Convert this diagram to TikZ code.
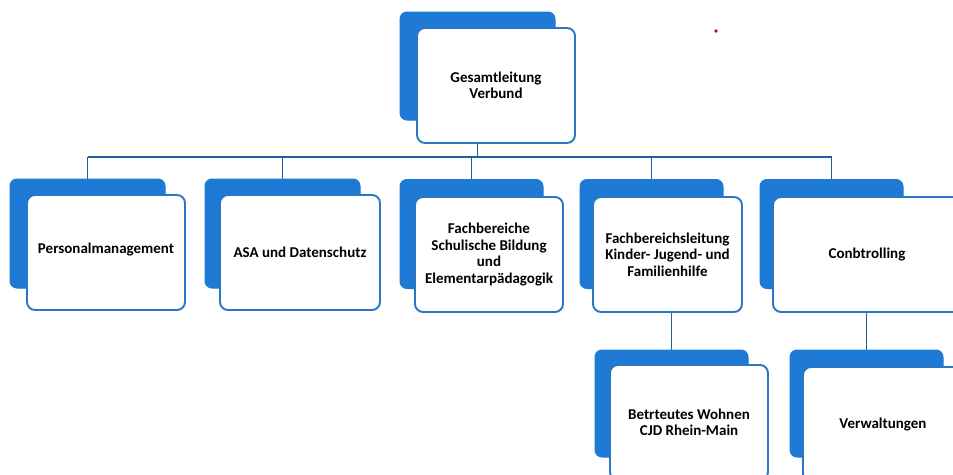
\documentclass[tikz,border=0pt]{standalone}
\usepackage{fontspec}
\setmainfont{Carlito}
\definecolor{backblue}{HTML}{1F7AD6}
\definecolor{lineblue}{HTML}{2A76C6}
\definecolor{connblue}{HTML}{1E5FA6}
\tikzset{
  backbox/.style={fill=backblue, draw=backblue, line width=1pt, rounded corners=7pt, inner sep=0pt},
  frontbox/.style={fill=white, draw=lineblue, line width=1.9pt, rounded corners=8pt, inner sep=2pt,
    align=center, font=\fontsize{15}{16.5}\selectfont\bfseries, text=black},
  conn/.style={draw=connblue, line width=1.8pt}
}
\begin{document}
\begin{tikzpicture}[x=1pt,y=-1pt]
\useasboundingbox (0,0) rectangle (953,474);
\clip (0,0) rectangle (953,474);
% top
\node[backbox, minimum width=155, minimum height=108] (topback) at (477.5,66) {};
\node[frontbox, minimum width=158, minimum height=115] (topfront) at (496,85.5) {Gesamtleitung\\Verbund};
% row 1
\node[backbox, minimum width=155, minimum height=109] (b1back) at (87.5,233.5) {};
\node[frontbox, minimum width=158, minimum height=115] (b1front) at (106,252.5) {\raisebox{8pt}{Personalmanagement}};
\node[backbox, minimum width=155, minimum height=109] (b2back) at (282.5,233.5) {};
\node[frontbox, minimum width=160, minimum height=115] (b2front) at (300,252.5) {ASA und Datenschutz};
\node[backbox, minimum width=143, minimum height=109] (b3back) at (471.5,234) {};
\node[frontbox, minimum width=148, minimum height=115] (b3front) at (489,254.5) {Fachbereiche\\Schulische Bildung\\und\\Elementarpädagogik};
\node[backbox, minimum width=143, minimum height=109] (b4back) at (651.5,234) {};
\node[frontbox, minimum width=149, minimum height=115] (b4front) at (667.5,254.5) {Fachbereichsleitung\\Kinder- Jugend- und\\Familienhilfe};
\node[backbox, minimum width=143, minimum height=109] (b5back) at (831.5,234) {};
\node[frontbox, minimum width=188, minimum height=115] (b5front) at (867,254.5) {\raisebox{-5pt}{Conbtrolling}};
% row 2
\node[backbox, minimum width=153, minimum height=107] (b6back) at (671.5,403.5) {};
\node[frontbox, minimum width=158, minimum height=115] (b6front) at (689,422.5) {Betrteutes Wohnen\\CJD Rhein-Main};
\node[backbox, minimum width=153, minimum height=107] (b7back) at (866.5,403.5) {};
\node[frontbox, minimum width=160, minimum height=115] (b7front) at (883,424.5) {Verwaltungen};
% connectors
\coordinate (bus) at (0,157);
\draw[conn] (topback.center |- topfront.south) -- (topback.center |- bus);
\draw[conn] (b1back.north |- bus) -- (b5back.north |- bus);
\foreach \b in {b1,b2,b3,b4,b5}{
  \draw[conn] (\b back.north |- bus) -- (\b back.north);
}
\draw[conn] (b6back.north |- b4front.south) -- (b6back.north);
\draw[conn] (b7back.north |- b5front.south) -- (b7back.north);
% red speck
\fill[red!85!black] (716,31) circle (1.8);
\end{tikzpicture}
\end{document}
